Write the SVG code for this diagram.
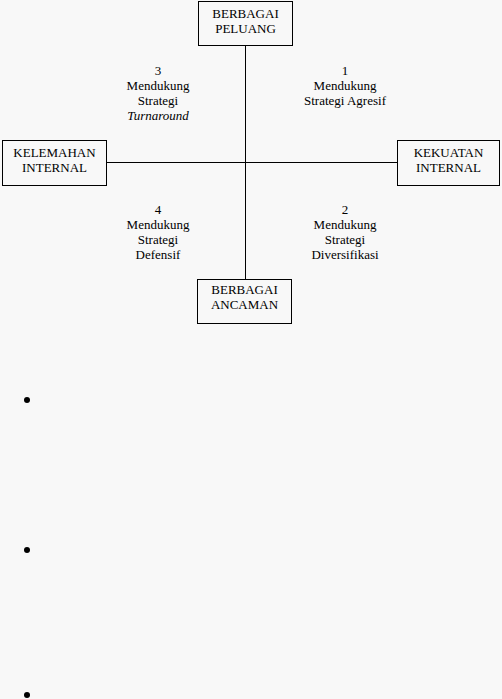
<svg xmlns="http://www.w3.org/2000/svg" width="502" height="699" viewBox="0 0 502 699">
<style>
text{font-family:'Liberation Serif','Times New Roman',serif;font-size:13px;fill:#000;text-anchor:middle}
.box{fill:none;stroke:#000;stroke-width:1}
.ln{stroke:#000;stroke-width:1;fill:none}
</style>
<rect width="502" height="699" fill="#f8f8f8"/>
<g id="connectors">
<line class="ln" x1="245.5" y1="45" x2="245.5" y2="279"/>
<line class="ln" x1="106" y1="162.5" x2="397" y2="162.5"/>
</g>
<g font-family="Liberation Serif, serif" font-size="13">
<g id="peluang">
<rect class="box" x="198.5" y="1.5" width="94" height="44"/>
<text x="245.5" y="18">BERBAGAI</text>
<text x="245.5" y="33">PELUANG</text>
</g>
<g id="kelemahan">
<rect class="box" x="2.5" y="140.5" width="104" height="45"/>
<text x="54.5" y="157">KELEMAHAN</text>
<text x="54.5" y="172">INTERNAL</text>
</g>
<g id="kekuatan">
<rect class="box" x="397.5" y="140.5" width="102" height="45"/>
<text x="448.5" y="157">KEKUATAN</text>
<text x="448.5" y="172">INTERNAL</text>
</g>
<g id="ancaman">
<rect class="box" x="197.5" y="279.5" width="94" height="44"/>
<text x="244.5" y="294">BERBAGAI</text>
<text x="244.5" y="309">ANCAMAN</text>
</g>
<g id="q3">
<text x="158" y="75">3</text>
<text x="158" y="90">Mendukung</text>
<text x="158" y="105">Strategi</text>
<text x="158" y="120" font-style="italic">Turnaround</text>
</g>
<g id="q1">
<text x="345" y="75">1</text>
<text x="345" y="90">Mendukung</text>
<text x="345" y="105">Strategi Agresif</text>
</g>
<g id="q4">
<text x="158" y="214">4</text>
<text x="158" y="229">Mendukung</text>
<text x="158" y="244">Strategi</text>
<text x="158" y="259">Defensif</text>
</g>
<g id="q2">
<text x="345" y="214">2</text>
<text x="345" y="229">Mendukung</text>
<text x="345" y="244">Strategi</text>
<text x="345" y="259">Diversifikasi</text>
</g>
</g>
<g id="bullets">
<circle cx="27" cy="400" r="3"/>
<circle cx="27" cy="550" r="3"/>
<circle cx="27" cy="695" r="3"/>
</g>
</svg>
